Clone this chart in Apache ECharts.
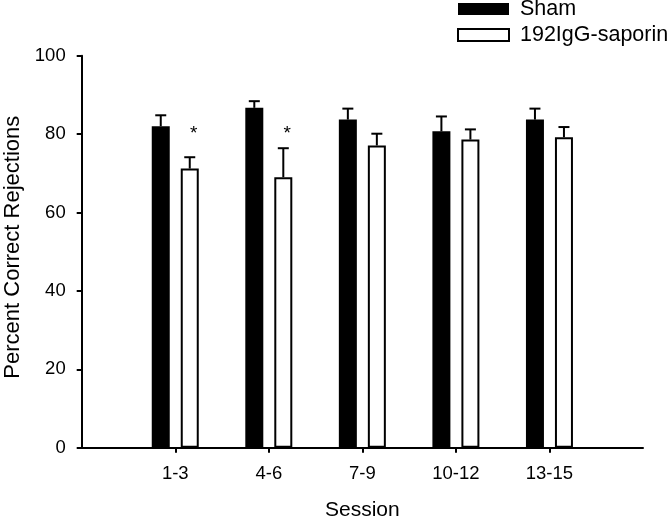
<!DOCTYPE html>
<html>
<head>
<meta charset="utf-8">
<script src="https://cdn.jsdelivr.net/npm/echarts@6/dist/echarts.min.js"></script>
<style>
html,body{margin:0;padding:0;background:#fff;}
#chart{width:669px;height:518px;}
</style>
</head>
<body>
<div id="chart"></div>
<script>
// ---- data ----
var sessions = ['1-3', '4-6', '7-9', '10-12', '13-15'];
var shamMean = [82.0, 86.7, 83.7, 80.7, 83.7];
var shamErr = [2.8, 1.7, 2.8, 3.8, 2.8];
var saporinMean = [71.2, 69.0, 77.1, 78.6, 79.2];
var saporinErr = [2.9, 7.4, 3.0, 2.6, 2.6];
var sigStarY = [80.2, 80.2, null, null, null];
var yTicks = [0, 20, 40, 60, 80, 100];

// ---- build ----
var FONT = 'Liberation Sans, Arial, sans-serif';
var BAR_W = 18, GAP_PX = 11;
var OFFSET = (BAR_W + GAP_PX) / 2;
var axisCats = [' '].concat(sessions).concat(['  ']);
function pad(arr) { return ['-'].concat(arr).concat(['-']); }

function errData(means, errs) {
  return means.map(function (m, i) { return [i + 1, m, errs[i]]; });
}
function errRender(sign) {
  return function (params, api) {
    var x = api.value(0), m = api.value(1), e = api.value(2);
    var p0 = api.coord([x, m]);
    var p1 = api.coord([x, m + e]);
    var cx = p0[0] + sign * OFFSET;
    var st = { stroke: '#000', lineWidth: 2 };
    return {
      type: 'group',
      children: [
        { type: 'line', shape: { x1: cx, y1: p0[1], x2: cx, y2: p1[1] }, style: st },
        { type: 'line', shape: { x1: cx - 5.5, y1: p1[1], x2: cx + 5.5, y2: p1[1] }, style: st }
      ]
    };
  };
}
var starData = [];
sigStarY.forEach(function (v, i) { if (v != null) starData.push([i + 1, v]); });

var chart = echarts.init(document.getElementById('chart'), null, { renderer: 'canvas' });
chart.setOption({
  animation: false,
  backgroundColor: '#fff',
  textStyle: { fontFamily: FONT, color: '#000' },
  grid: { left: 81.7, right: 26, top: 55.7, bottom: 70.3, containLabel: false, outerBoundsMode: 'none' },
  legend: {
    data: ['Sham', '192IgG-saporin'],
    orient: 'vertical',
    left: 457, top: -2,
    padding: 0,
    itemWidth: 51, itemHeight: 12, itemGap: 4,
    icon: 'rect',
    textStyle: { fontFamily: FONT, fontSize: 21.5, color: '#000', lineHeight: 22, padding: [0, 0, 0, 6] }
  },
  xAxis: {
    type: 'category',
    data: axisCats,
    boundaryGap: false,
    name: 'Session',
    nameLocation: 'middle',
    nameGap: 52,
    nameTextStyle: { fontFamily: FONT, fontSize: 21, color: '#000' },
    axisLine: { lineStyle: { color: '#000', width: 2 } },
    axisTick: {
      length: 5, lineStyle: { color: '#000', width: 2 },
      interval: function (index) { return index > 0 && index < axisCats.length - 1; }
    },
    axisLabel: { interval: 0, margin: 17, fontFamily: FONT, fontSize: 18.5, color: '#000' },
    splitLine: { show: false }
  },
  yAxis: {
    type: 'value',
    min: yTicks[0], max: yTicks[yTicks.length - 1], interval: yTicks[1] - yTicks[0],
    name: 'Percent Correct Rejections',
    nameLocation: 'middle',
    nameGap: 52,
    nameRotate: 90,
    nameTextStyle: { fontFamily: FONT, fontSize: 22, color: '#000', padding: [0, 0, 0, 9] },
    axisLine: { show: true, lineStyle: { color: '#000', width: 2 } },
    axisTick: { show: true, length: 5, lineStyle: { color: '#000', width: 2 } },
    axisLabel: { margin: 16, fontFamily: FONT, fontSize: 18.5, color: '#000' },
    splitLine: { show: false }
  },
  series: [
    {
      name: 'Sham', type: 'bar', data: pad(shamMean),
      barWidth: BAR_W, barGap: (GAP_PX / BAR_W * 100) + '%',
      itemStyle: { color: '#000', borderColor: '#000', borderWidth: 0 }
    },
    {
      name: '192IgG-saporin', type: 'bar', data: pad(saporinMean),
      barWidth: BAR_W,
      itemStyle: { color: '#fff', borderColor: '#000', borderWidth: 2 }
    },
    {
      type: 'custom', name: 'shamErr', data: errData(shamMean, shamErr),
      renderItem: errRender(-1), encode: { x: 0, y: 1 }, z: 5, silent: true
    },
    {
      type: 'custom', name: 'sapErr', data: errData(saporinMean, saporinErr),
      renderItem: errRender(1), encode: { x: 0, y: 1 }, z: 5, silent: true
    },
    {
      type: 'custom', name: 'stars', data: starData,
      encode: { x: 0, y: 1 }, z: 6, silent: true,
      renderItem: function (params, api) {
        var p = api.coord([api.value(0), api.value(1)]);
        return {
          type: 'text',
          style: {
            text: '*', x: p[0] + OFFSET + 4, y: p[1],
            align: 'center', verticalAlign: 'middle',
            font: '19px ' + FONT, fill: '#000'
          }
        };
      }
    }
  ]
});
</script>
</body>
</html>
